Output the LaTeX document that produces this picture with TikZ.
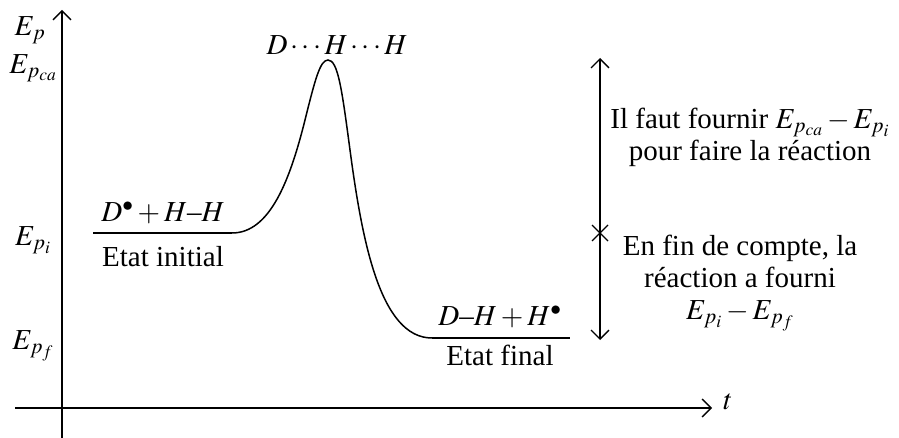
\documentclass[tikz,border=0pt]{standalone}
\usepackage{mathptmx}
\usepackage{fontspec}
\setmainfont{Liberation Serif}
\usetikzlibrary{arrows.meta}
\begin{document}
\begin{tikzpicture}[x=1pt,y=-1pt,
  font=\fontsize{29}{32}\selectfont,
  every node/.style={inner sep=0pt},
  axisline/.style={line width=1.3pt,-{Straight Barb[length=9pt,width=18pt,line width=1.3pt]}},
  curveline/.style={line width=1.5pt},
  levelline/.style={line width=2.6pt},
  dblarrow/.style={line width=1.3pt,{Straight Barb[length=9pt,width=18pt,line width=1.3pt]}-{Straight Barb[length=9pt,width=18pt,line width=1.3pt]}},
  crossline/.style={line width=1.3pt},
  lbl/.style={align=center}]
\useasboundingbox (0,0) rectangle (899,438);
% axes
\coordinate (vb) at (62,438);
\coordinate (vt) at (62,10);
\coordinate (hl) at (15,408);
\coordinate (hr) at (712,408);
\draw[axisline] (vb) -- (vt);
\draw[axisline] (hl) -- (hr);
\node (tlab) at (728,402) {$t$};
% axis labels
\node (Ep) at (30,30) {$E_p$};
\node (Epca) at (33,68) {$E_{p_{ca}}$};
\node (Epi) at (33,240) {$E_{p_i}$};
\node (Epf) at (33,346) {$E_{p_f}$};
% levels
\coordinate (i1) at (93,233);
\coordinate (i2) at (232,233);
\coordinate (f1) at (432,338);
\coordinate (f2) at (570,338);
\draw[levelline] (i1) -- (i2);
\draw[levelline] (f1) -- (f2);
% curve
\coordinate (pk) at (328,60);
\draw[curveline] (i2) .. controls (270,233) and (290,180) .. (305,120)
  .. controls (315,80) and (320,60) .. (pk)
  .. controls (338,60) and (342,90) .. (350,150)
  .. controls (362,240) and (380,338) .. (f1);
% state labels
\node (rea) at (163,213) {$D^{\bullet}+H\mbox{--}H$};
\node (ei) at (163,257) {Etat initial};
\node (ts) at (337,45) {$D\cdots H\cdots H$};
\node (pro) at (500,317) {$D\mbox{--}H+H^{\bullet}$};
\node (ef) at (500,355) {Etat final};
% right double arrow
\coordinate (at) at (600,58);
\coordinate (ab) at (600,340);
\coordinate (ac) at (600,233);
\draw[dblarrow] (ab) -- (at);
\draw[crossline] ([shift={(-8,-8)}]ac) -- ([shift={(8,8)}]ac);
\draw[crossline] ([shift={(-8,8)}]ac) -- ([shift={(8,-8)}]ac);
\node[lbl] (t1) at (750,137) {Il faut fournir $E_{p_{ca}}-E_{p_i}$\\pour faire la réaction};
\node[lbl] (t2) at (740,283) {En fin de compte, la\\réaction a fourni\\$E_{p_i}-E_{p_f}$};
\end{tikzpicture}
\end{document}
